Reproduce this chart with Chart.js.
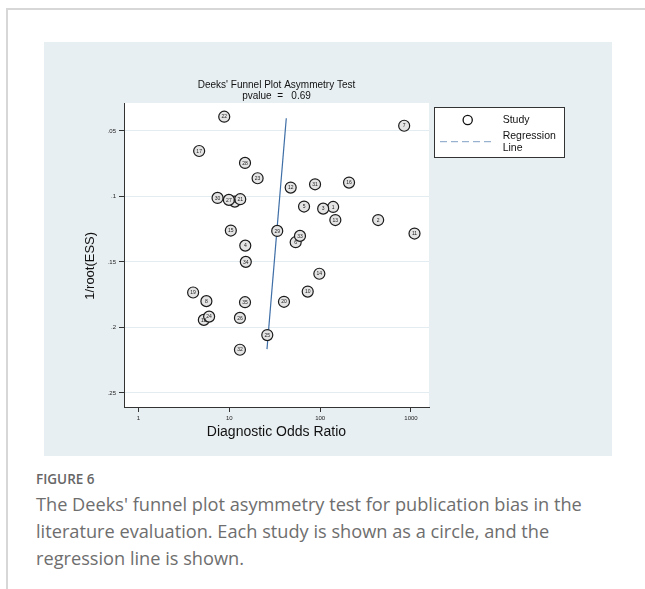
<!DOCTYPE html>
<html lang="en">
<head>
  <meta charset="UTF-8">
  <title>Deeks' Funnel Plot</title>
  <script src="https://cdn.jsdelivr.net/npm/chart.js"></script>
  <style>
    body { margin: 0; background: #fff; width: 645px; height: 589px; overflow: hidden; position: relative; }
    .card { position: absolute; left: 6px; top: 8px; width: 700px; height: 640px;
            border-top: 2px solid #d7d7d7; border-left: 2px solid #d7d7d7; }
    .panel { position: absolute; left: 44px; top: 42px; width: 568px; height: 414px; background: #e8eff2; }
    .fig { position: absolute; left: 36px; top: 470px; line-height: 18px; font-family: "Open Sans", Lato, sans-serif;
           font-weight: 600; font-size: 13.5px; color: #666; }
    .caption { position: absolute; left: 36px; top: 491px; width: 605px; font-family: "Open Sans", Lato, sans-serif;
               font-size: 18.2px; line-height: 27px; color: #6e6e6e; white-space: nowrap; }
  </style>
</head>
<body>
  <div class="card"></div>
  <div class="panel"><canvas id="funnel" width="568" height="414"></canvas></div>
  <div class="fig">FIGURE 6</div>
  <div class="caption">The Deeks' funnel plot asymmetry test for publication bias in the<br>literature evaluation. Each study is shown as a circle, and the<br>regression line is shown.</div>

  <script>
    // study id, diagnostic odds ratio, 1/root(ESS)
    const studyIds = [1, 2, 3, 4, 5, 6, 7, 8, 9, 10, 11, 12, 13, 14, 15, 16, 17, 18,
                      19, 20, 21, 22, 23, 24, 25, 26, 27, 28, 29, 30, 31, 32, 33, 34, 35];
    const dorValues = [139, 435, 108, 15.0, 66.5, 53.8, 841, 5.6, 11.5, 73, 1093, 47.4, 147, 98, 10.4, 208, 4.66, 5.25,
                       4.0, 40, 13.2, 8.8, 20.5, 6.0, 26.2, 13.1, 9.9, 14.9, 33.7, 7.43, 87.9, 13.1, 60, 15.2, 14.9];
    const invRootEss = [0.108, 0.118, 0.1093, 0.1375, 0.1077, 0.1349, 0.046, 0.1799, 0.1039, 0.1726, 0.1283, 0.0932,
                        0.118, 0.159, 0.126, 0.0894, 0.0653, 0.1942, 0.1733, 0.1804, 0.1021, 0.0391, 0.0861, 0.1917,
                        0.2058, 0.1927, 0.1026, 0.0744, 0.1263, 0.1011, 0.0907, 0.217, 0.1301, 0.1499, 0.1807];

    // regression line end points
    const regX = [42.4, 26.0];
    const regY = [0.0403, 0.2165];

    const xTickValues = [1, 10, 100, 1000];
    const xTickLabels = ['1', '10', '100', '1000'];
    const yTickValues = [0.05, 0.1, 0.15, 0.2, 0.25];
    const yTickLabels = ['.05', '.1', '.15', '.2', '.25'];

    const axisColor = '#333';
    const lineBlue = '#3e6ea6';

    const studyPoints = dorValues.map((x, i) => ({ x: x, y: invRootEss[i] }));
    const regPoints = regX.map((x, i) => ({ x: x, y: regY[i] }));

    const overlay = {
      id: 'overlay',
      beforeDraw(chart) {
        const a = chart.chartArea;
        const c = chart.ctx;
        c.save();
        c.fillStyle = '#fff';
        c.fillRect(a.left, a.top, a.right - a.left, a.bottom - a.top);
        c.restore();
      },
      afterDatasetsDraw(chart) {
        const c = chart.ctx;
        const meta = chart.getDatasetMeta(1);
        c.save();
        c.font = '5px "Liberation Sans", Arial, sans-serif';
        c.fillStyle = '#222';
        c.textAlign = 'center';
        c.textBaseline = 'middle';
        meta.data.forEach((pt, i) => {
          c.fillText(String(studyIds[i]), pt.x, pt.y + 0.3);
        });
        c.restore();
      },
      afterDraw(chart) {
        const c = chart.ctx;
        c.save();
        // legend box
        c.fillStyle = '#fff';
        c.fillRect(390.5, 65.5, 130, 50);
        c.strokeStyle = '#333';
        c.lineWidth = 1;
        c.strokeRect(390.5, 65.5, 130, 50);
        c.beginPath();
        c.arc(423.7, 78, 4.6, 0, Math.PI * 2);
        c.lineWidth = 1.3;
        c.strokeStyle = '#111';
        c.stroke();
        c.beginPath();
        c.setLineDash([7, 4]);
        c.moveTo(396, 99.7);
        c.lineTo(450, 99.7);
        c.strokeStyle = '#7f9fc4';
        c.lineWidth = 1;
        c.stroke();
        c.setLineDash([]);
        c.fillStyle = '#111';
        c.font = '10.5px "Liberation Sans", Arial, sans-serif';
        c.textBaseline = 'middle';
        c.fillText('Study', 458.7, 78);
        c.fillText('Regression', 458.7, 94.5);
        c.fillText('Line', 458.7, 106.5);
        c.restore();
      }
    };

    new Chart(document.getElementById('funnel'), {
      type: 'scatter',
      data: {
        datasets: [
          {
            type: 'line',
            label: 'Regression Line',
            data: regPoints,
            borderColor: lineBlue,
            borderWidth: 1.2,
            pointRadius: 0,
            fill: false,
            order: 2
          },
          {
            label: 'Study',
            data: studyPoints,
            pointStyle: 'circle',
            pointRadius: 5.5,
            pointHoverRadius: 5.5,
            backgroundColor: '#e4e4e4',
            borderColor: '#1a1a1a',
            borderWidth: 1.2,
            order: 1
          }
        ]
      },
      options: {
        responsive: false,
        animation: false,
        events: [],
        layout: { padding: { left: 0, top: 0, right: 183, bottom: 0 } },
        plugins: {
          legend: { display: false },
          tooltip: { enabled: false },
          title: {
            display: true,
            fullSize: false,
            text: ["Deeks' Funnel Plot Asymmetry Test", 'pvalue  =   0.69'],
            color: '#111',
            font: { family: '"Liberation Sans", Arial, sans-serif', size: 10, weight: 'normal', lineHeight: 1.15 },
            padding: { top: 37.25, bottom: 0.75 }
          }
        },
        scales: {
          x: {
            type: 'logarithmic',
            min: 0.694,
            max: 1578,
            afterFit(scale) { scale.height = 49; },
            afterBuildTicks(scale) { scale.ticks = xTickValues.map(v => ({ value: v })); },
            ticks: {
              autoSkip: false,
              maxRotation: 0,
              padding: 3,
              color: '#222',
              font: { family: '"Liberation Sans", Arial, sans-serif', size: 6 },
              callback: (v, i) => xTickLabels[i]
            },
            grid: { drawOnChartArea: false, tickLength: 5, tickColor: axisColor, tickWidth: 1 },
            border: { display: true, color: axisColor, width: 1 },
            title: {
              display: true,
              text: 'Diagnostic Odds Ratio',
              color: '#111',
              font: { family: '"Liberation Sans", Arial, sans-serif', size: 14 },
              padding: { top: 0, bottom: 15.6 }
            }
          },
          y: {
            type: 'linear',
            reverse: true,
            min: 0.02865,
            max: 0.2607,
            afterFit(scale) { scale.width = 80; },
            afterBuildTicks(scale) { scale.ticks = yTickValues.map(v => ({ value: v })); },
            ticks: {
              autoSkip: false,
              padding: 3,
              color: '#222',
              font: { family: '"Liberation Sans", Arial, sans-serif', size: 6 },
              callback: (v, i) => yTickLabels[i]
            },
            grid: { color: '#e3ecf1', lineWidth: 1, tickLength: 5, tickColor: axisColor, tickWidth: 1 },
            border: { display: true, color: axisColor, width: 1 },
            title: {
              display: true,
              text: '1/root(ESS)      ',
              color: '#111',
              font: { family: '"Liberation Sans", Arial, sans-serif', size: 13 },
              padding: { top: 39, bottom: 0 }
            }
          }
        }
      },
      plugins: [overlay]
    });
  </script>
</body>
</html>
